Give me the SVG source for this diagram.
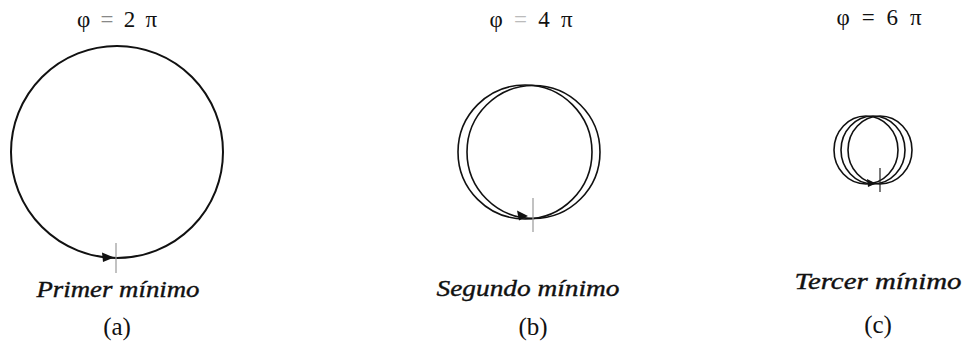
<svg xmlns="http://www.w3.org/2000/svg" width="965" height="342" viewBox="0 0 965 342">
<style>
  .ring { fill: none; stroke: #111; stroke-width: 2; }
  .ring2 { fill: none; stroke: #111; stroke-width: 1.6; }
  .tick { stroke: #999; stroke-width: 1.2; }
  .head { fill: #111; }
  text { font-family: 'Liberation Serif', serif; fill: #111; text-anchor: middle; }
  .hdr { font-size: 23px; }
  .cap { font-size: 24px; font-style: italic; stroke: #111; stroke-width: 0.4; }
  .lbl { font-size: 25px; }
</style>
<rect width="965" height="342" fill="#fff"/>

<g id="panel-a">
  <text class="hdr" font-family="Liberation Serif" x="117" y="27" textLength="80" lengthAdjust="spacing">φ <tspan fill="#888">=</tspan> 2 π</text>
  <circle class="ring" cx="117" cy="152" r="106"/>
  <line class="tick" x1="116" y1="243" x2="116" y2="273"/>
  <polygon class="head" points="114,257.5 102,252.5 103,262"/>
  <text class="cap" font-family="Liberation Serif" x="118" y="297" textLength="163" lengthAdjust="spacingAndGlyphs">Primer mínimo</text>
  <text class="lbl" font-family="Liberation Serif" x="117" y="335">(a)</text>
</g>

<g id="panel-b">
  <text class="hdr" font-family="Liberation Serif" x="531" y="27" textLength="83" lengthAdjust="spacing">φ <tspan fill="#bbb">=</tspan> 4 π</text>
  <circle class="ring2" cx="525" cy="152" r="67"/>
  <circle class="ring2" cx="533.5" cy="152" r="66.5"/>
  <line class="tick" x1="533" y1="198" x2="533" y2="232"/>
  <polygon class="head" points="528,216 517,210.5 519,220.5"/>
  <text class="cap" font-family="Liberation Serif" x="528" y="296" textLength="183" lengthAdjust="spacingAndGlyphs">Segundo mínimo</text>
  <text class="lbl" font-family="Liberation Serif" x="533" y="335">(b)</text>
</g>

<g id="panel-c">
  <text class="hdr" font-family="Liberation Serif" x="879" y="25" textLength="85" lengthAdjust="spacing">φ = 6 π</text>
  <ellipse class="ring2" cx="866" cy="150" rx="32" ry="34"/>
  <ellipse class="ring2" cx="873" cy="150" rx="32" ry="34"/>
  <ellipse class="ring2" cx="880" cy="150" rx="32" ry="34"/>
  <line class="tick" style="stroke:#222" x1="880" y1="168" x2="880" y2="192"/>
  <polygon class="head" points="876,183.5 867,179 868,187"/>
  <text class="cap" font-family="Liberation Serif" x="878" y="289" textLength="167" lengthAdjust="spacingAndGlyphs">Tercer mínimo</text>
  <text class="lbl" font-family="Liberation Serif" x="878" y="333">(c)</text>
</g>

<g id="connectors"></g>
</svg>
